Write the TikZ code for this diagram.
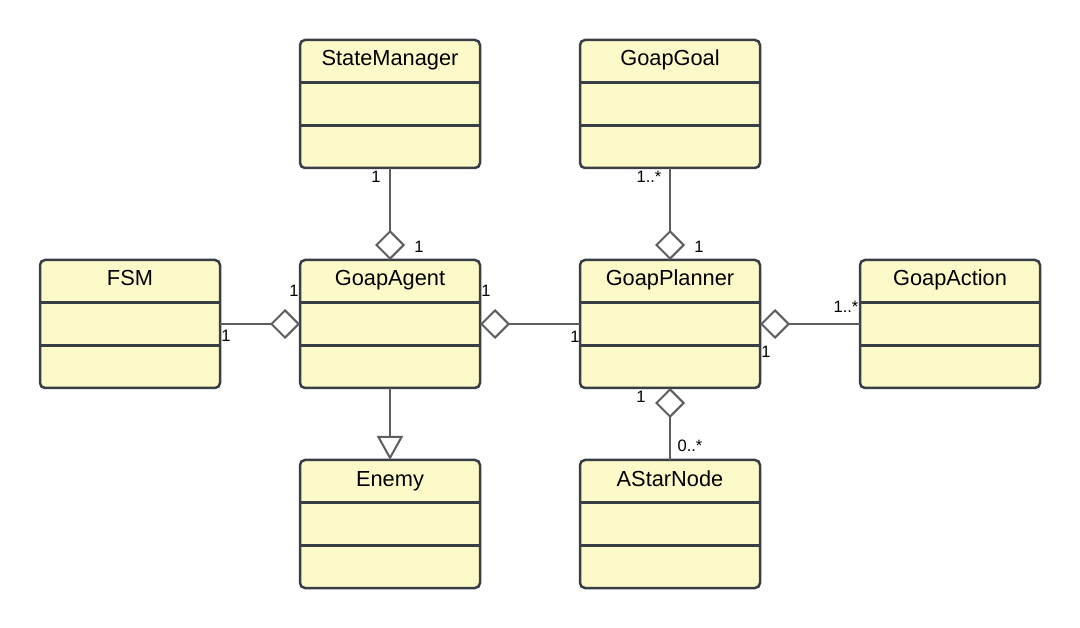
\documentclass[tikz,border=0pt]{standalone}
\usepackage{fontspec}
\setmainfont{Liberation Sans}
\usetikzlibrary{calc,arrows.meta}

\definecolor{classfill}{HTML}{FCFAC8}
\definecolor{classline}{HTML}{3A3F47}
\definecolor{linkline}{HTML}{5E5E5E}

\tikzset{
    classbox/.style={draw=classline, fill=classfill, line width=2.5pt, rounded corners=5pt,
        minimum width=180pt, minimum height=128pt, inner sep=0pt, outer sep=0pt},
    classname/.style={font=\fontsize{21.8}{24}\selectfont, anchor=base, inner sep=0pt},
    mult/.style={font=\fontsize{16.5}{18}\selectfont, inner sep=0pt},
    aggr/.style={draw=linkline, line width=2pt,
        {Diamond[open, length=30pt, width=30pt]}-},
    inherit/.style={draw=linkline, line width=2pt,
        -{Triangle[open, length=24pt, width=26pt]}}
}

\begin{document}
\begin{tikzpicture}[x=1pt, y=-1pt]
        \useasboundingbox (0,0) rectangle (1080,628);

        \node[classbox](stmgr) at (390,104) {};
        \node[classbox](goal) at (670,104) {};
        \node[classbox](fsm) at (130,324) {};
        \node[classbox](agent) at (390,324) {};
        \node[classbox](planner) at (670,324) {};
        \node[classbox](action) at (950,324) {};
        \node[classbox](enemy) at (390,524) {};
        \node[classbox](astar) at (670,524) {};

        \foreach \n/\t in {stmgr/StateManager, goal/GoapGoal, fsm/FSM, agent/GoapAgent,
                planner/GoapPlanner, action/GoapAction, enemy/Enemy, astar/AStarNode} {
            \node[classname](\n-name) at ($(\n.north)+(0,26)$) {\t};
            \draw[classline, line width=2.5pt] ($(\n.north west)!1/3!(\n.south west)$) -- ($(\n.north east)!1/3!(\n.south east)$);
            \draw[classline, line width=2.5pt] ($(\n.north west)!2/3!(\n.south west)$) -- ($(\n.north east)!2/3!(\n.south east)$);
        }

        \draw[aggr] (agent.north) -- (stmgr.south);
        \draw[aggr] (planner.north) -- (goal.south);
        \draw[aggr] (agent.west) -- (fsm.east);
        \draw[aggr] (agent.east) -- (planner.west);
        \draw[aggr] (planner.east) -- (action.west);
        \draw[aggr] (planner.south) -- (astar.north);
        \draw[inherit] (agent.south) -- (enemy.north);

        \node[mult](m-stmgr) at ($(stmgr.south)+(-14,9)$) {1};
        \node[mult](m-agent-top) at ($(agent.north)+(29,-13)$) {1};
        \node[mult](m-goal) at ($(goal.south)+(-21,9)$) {1..*};
        \node[mult](m-planner-top) at ($(planner.north)+(29,-13)$) {1};
        \node[mult](m-fsm) at ($(fsm.east)+(6,12)$) {1};
        \node[mult](m-agent-left) at ($(agent.west)+(-6,-33)$) {1};
        \node[mult](m-agent-right) at ($(agent.east)+(6,-33)$) {1};
        \node[mult](m-planner-left) at ($(planner.west)+(-5,13)$) {1};
        \node[mult](m-planner-right) at ($(planner.east)+(6,28)$) {1};
        \node[mult](m-action) at ($(action.west)+(-14,-17)$) {1..*};
        \node[mult](m-planner-bottom) at ($(planner.south)+(-29,9)$) {1};
        \node[mult](m-astar) at ($(astar.north)+(20,-14)$) {0..*};
    \end{tikzpicture}
\end{document}
